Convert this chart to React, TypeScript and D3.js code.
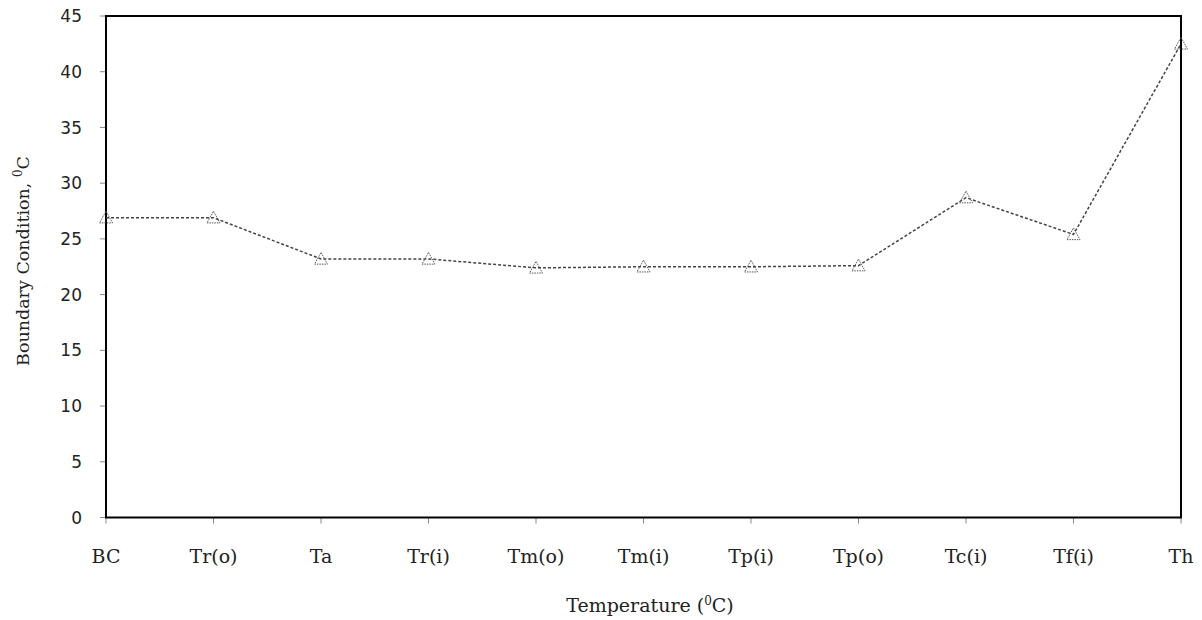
import React from "react";
import * as d3 from "d3";

const categories = ["BC", "Tr(o)", "Ta", "Tr(i)", "Tm(o)", "Tm(i)", "Tp(i)", "Tp(o)", "Tc(i)", "Tf(i)", "Th"];
const values = [26.9, 26.9, 23.2, 23.2, 22.4, 22.5, 22.5, 22.6, 28.7, 25.4, 42.5];
const yTicks = [0, 5, 10, 15, 20, 25, 30, 35, 40, 45];

const W = 1202, H = 620;
const L = 106, R = 1181, T = 16, B = 517.5;

export default function App() {
  const x = d3.scalePoint<string>().domain(categories).range([L, R]).padding(0);
  const y = d3.scaleLinear().domain([0, 45]).range([B, T]);
  const line = d3.line<number>().x((_, i) => x(categories[i])!).y((d) => y(d));
  const serif = "'DejaVu Serif', serif";
  const sans = "'DejaVu Sans', sans-serif";
  const tri = (cx: number, cy: number) => {
    const s = 6.5;
    return `M${cx},${cy - s}L${cx + s},${cy + s * 0.8}L${cx - s},${cy + s * 0.8}Z`;
  };
  return (
    <svg width={W} height={H} style={{ position: "absolute", left: 0, top: 0, background: "#fff" }}>
      {yTicks.map((t) => (
        <g key={t}>
          <line x1={L - 6} x2={L} y1={y(t)} y2={y(t)} stroke="#888" strokeWidth={1} />
          <text x={82} y={y(t)} dy="0.36em" textAnchor="end" fontFamily={sans} fontSize={17} fill="#222">{t}</text>
        </g>
      ))}
      {categories.map((c) => (
        <g key={c}>
          <line x1={x(c)} x2={x(c)} y1={B} y2={B + 6} stroke="#888" strokeWidth={1} />
          <text x={x(c)} y={563} textAnchor="middle" fontFamily={serif} fontSize={19} fill="#222">{c}</text>
        </g>
      ))}
      <rect x={L} y={T} width={R - L} height={B - T} fill="none" stroke="#000" strokeWidth={2} />
      <path d={line(values)!} fill="none" stroke="#444" strokeWidth={1.5} strokeDasharray="3,2" />
      {values.map((v, i) => (
        <path key={i} d={tri(x(categories[i])!, y(v))} fill="none" stroke="#555" strokeWidth={1} strokeDasharray="1.5,1" />
      ))}
      <text transform={`translate(29,261) rotate(-90)`} textAnchor="middle" fontFamily={serif} fontSize={17.5} fill="#222">
        Boundary Condition, <tspan dy="-7" fontSize={12}>0</tspan><tspan dy="7">C</tspan>
      </text>
      <text x={650} y={612} textAnchor="middle" fontFamily={serif} fontSize={19} fill="#222">
        Temperature (<tspan dy="-7" fontSize={12}>0</tspan><tspan dy="7">C)</tspan>
      </text>
    </svg>
  );
}
